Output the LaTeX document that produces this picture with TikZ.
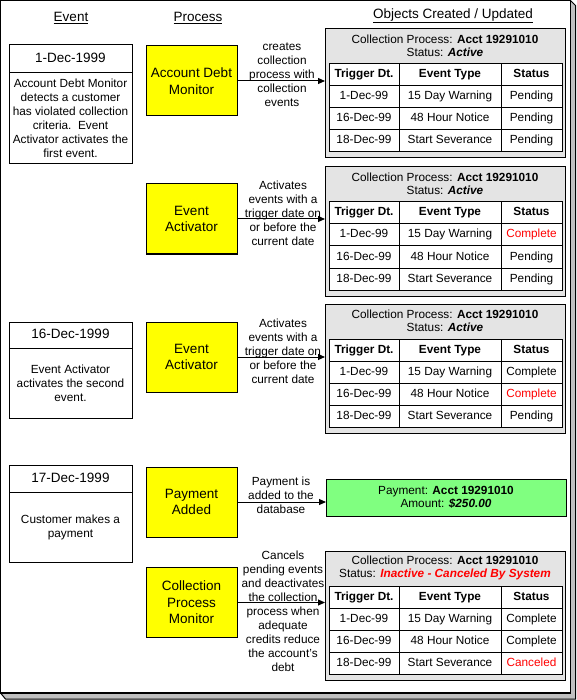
\documentclass[tikz,border=0pt]{standalone}
\usepackage{fontspec}
\setmainfont{Liberation Sans}
\usetikzlibrary{arrows.meta}
\definecolor{panelgray}{HTML}{E4E4E4}
\definecolor{shadowgray}{HTML}{C0C0C0}
\definecolor{procyellow}{HTML}{FFFF00}
\definecolor{paygreen}{HTML}{80FF80}
\definecolor{redtxt}{HTML}{FF0000}
\newcommand\smallf{\fontsize{11.8}{14}\selectfont}
\newcommand\titlef{\fontsize{11.8}{13}\selectfont}
\newcommand\bigf{\fontsize{13.5}{16.5}\selectfont}
\tikzset{
  hdr/.style={font=\bigf, inner sep=0pt},
  evt/.style={draw, line width=1pt, fill=white, minimum width=123, inner sep=0pt, outer sep=0pt, align=center, font=\smallf},
  evttitle/.style={evt, font=\bigf, text height=9.5pt, text depth=2.5pt},
  proc/.style={draw, line width=1pt, fill=procyellow, minimum width=91, minimum height=70, align=center, font=\bigf, inner sep=0pt, outer sep=0pt},
  lbl/.style={align=center, font=\smallf, inner sep=0pt},
  ptitle/.style={align=center, font=\titlef, inner sep=0pt},
  panelbox/.style={draw, line width=1pt, fill=panelgray, minimum width=240, minimum height=129, inner sep=0pt, outer sep=0pt},
  paybox/.style={draw, line width=1pt, fill=paygreen, minimum width=240, minimum height=37, inner sep=0pt, outer sep=0pt, align=center, font=\titlef},
  cell/.style={draw, line width=1pt, fill=white, minimum height=22, inner sep=0pt, outer sep=0pt, anchor=north west, font=\smallf, text height=8.5pt, text depth=2.5pt},
  conn/.style={line width=1pt, -{Triangle[length=7pt,width=6pt]}},
}
\newcommand\rtx[1]{\textcolor{redtxt}{#1}}
% #1 top y, #2 name, #3 status text, #4-#6 row statuses
\newcommand\cpanel[6]{%
  \node[panelbox] (#2) at (445,{#1+64.5}) {};
  \node[ptitle] (#2-title) at (445,{#1+16.5}) {Collection Process: \textbf{Acct 19291010}\\Status: #3};
  \node[cell, minimum width=70] (#2-a0) at (329,{#1+35}) {\textbf{Trigger Dt.}};
  \node[cell, minimum width=102] (#2-b0) at (399,{#1+35}) {\textbf{Event Type}};
  \node[cell, minimum width=61] (#2-c0) at (501,{#1+35}) {\textbf{Status}};
  \node[cell, minimum width=70] (#2-a1) at (329,{#1+57}) {1-Dec-99};
  \node[cell, minimum width=102] (#2-b1) at (399,{#1+57}) {15 Day Warning};
  \node[cell, minimum width=61] (#2-c1) at (501,{#1+57}) {#4};
  \node[cell, minimum width=70] (#2-a2) at (329,{#1+79}) {16-Dec-99};
  \node[cell, minimum width=102] (#2-b2) at (399,{#1+79}) {48 Hour Notice};
  \node[cell, minimum width=61] (#2-c2) at (501,{#1+79}) {#5};
  \node[cell, minimum width=70] (#2-a3) at (329,{#1+101}) {18-Dec-99};
  \node[cell, minimum width=102] (#2-b3) at (399,{#1+101}) {Start Severance};
  \node[cell, minimum width=61] (#2-c3) at (501,{#1+101}) {#6};
}
\begin{document}
\begin{tikzpicture}[x=1pt,y=-1pt]
\useasboundingbox (0,0) rectangle (576,700);
% outer frame with shadow
\filldraw[fill=shadowgray, draw=black, line width=1pt] (570.5,0.5) -- (575.5,5.5) -- (575.5,699) -- (5.5,699) -- (0.5,693) -- cycle;
\filldraw[fill=white, draw=black, line width=1.2pt] (0.6,0.6) rectangle (570.5,693);

% headers
\node[hdr] (hev) at (71,18) {\underline{Event}};
\node[hdr] (hpr) at (198,18) {\underline{Process}};
\node[hdr] (hob) at (453,16) {\underline{Objects Created / Updated}};

% event boxes
\node[evttitle, minimum height=28] (e1t) at (70.5,59) {1-Dec-1999};
\node[evt, minimum height=91] (e1d) at (70.5,118.5) {Account Debt Monitor\\detects a customer\\has violated collection\\criteria.\ \ Event\\Activator activates the\\first event.};
\node[evttitle, minimum height=26] (e2t) at (70.5,335) {16-Dec-1999};
\node[evt, minimum height=70] (e2d) at (70.5,383) {Event Activator\\activates the second\\event.};
\node[evttitle, minimum height=27] (e3t) at (70.5,478.5) {17-Dec-1999};
\node[evt, minimum height=70] (e3d) at (70.5,527) {Customer makes a\\payment};

% process boxes
\node[proc] (p1) at (191.5,81) {Account Debt\\Monitor};
\node[proc] (p2) at (191.5,219) {Event\\Activator};
\node[proc] (p3) at (191.5,357) {Event\\Activator};
\node[proc] (p4) at (191.5,502) {Payment\\Added};
\node[proc] (p5) at (191.5,602.5) {Collection\\Process\\Monitor};

% object panels
\cpanel{29}{o1}{\textbf{\textit{Active}}}{Pending}{Pending}{Pending}
\cpanel{167}{o2}{\textbf{\textit{Active}}}{\rtx{Complete}}{Pending}{Pending}
\cpanel{304}{o3}{\textbf{\textit{Active}}}{Complete}{\rtx{Complete}}{Pending}
\node[paybox] (o4) at (446,497.5) {Payment: \textbf{Acct 19291010}\\Amount: \textbf{\textit{\$250.00}}};
\cpanel{551}{o5}{\rtx{\textbf{\textit{Inactive - Canceled By System}}}}{Complete}{Complete}{\rtx{Canceled}}

% connectors
\draw[conn] (p1.east) -- (p1.east -| o1.west);
\draw[conn] (p2.east) -- (p2.east -| o2.west);
\draw[conn] (p3.east) -- (p3.east -| o3.west);
\draw[conn] (p4.east) -- (p4.east -| o4.west);
\draw[conn] (p5.east) -- (p5.east -| o5.west);

% connector labels
\node[lbl] (l1) at (282,75) {creates\\collection\\process with\\collection\\events};
\node[lbl] (l2) at (283,213) {Activates\\events with a\\trigger date on\\or before the\\current date};
\node[lbl] (l3) at (283,351) {Activates\\events with a\\trigger date on\\or before the\\current date};
\node[lbl] (l4) at (281,495) {Payment is\\added to the\\database};
\node[lbl] (l5) at (283,611) {Cancels\\pending events\\and deactivates\\the collection\\process when\\adequate\\credits reduce\\the account's\\debt};
\end{tikzpicture}
\end{document}
